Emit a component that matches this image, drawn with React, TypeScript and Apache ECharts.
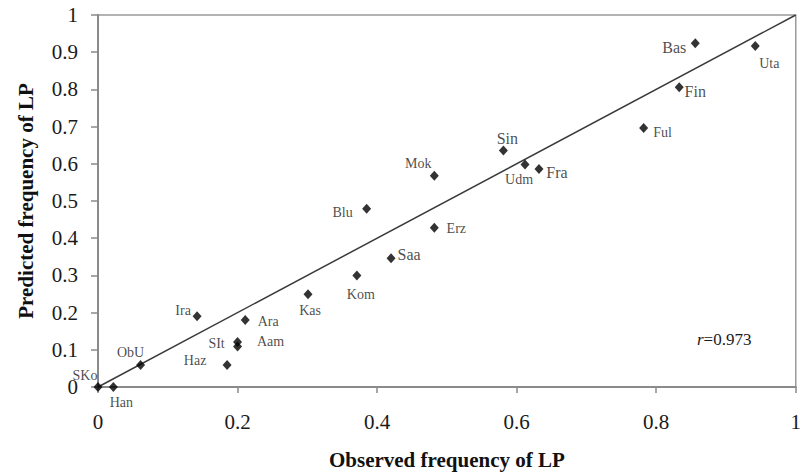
import React, { useEffect, useRef } from "react";
import * as echarts from "echarts";

const names = ["Bas", "Uta", "Fin", "Ful", "Sin", "Udm", "Fra", "Mok", "Erz", "Blu", "Saa", "Kom", "Kas", "Ira", "Ara", "SIt", "Aam", "Haz", "ObU", "SKo", "Han"];
const observed = [0.856, 0.942, 0.833, 0.782, 0.581, 0.612, 0.632, 0.482, 0.482, 0.385, 0.42, 0.371, 0.301, 0.142, 0.211, 0.2, 0.2, 0.185, 0.061, 0, 0.022];
const predicted = [0.924, 0.917, 0.806, 0.696, 0.636, 0.598, 0.586, 0.568, 0.428, 0.479, 0.346, 0.3, 0.249, 0.19, 0.18, 0.121, 0.109, 0.059, 0.059, 0, 0];
const fitLine = [[0, 0], [1, 1]];
const rValue = "0.973";

// label layout (offset from point center, font size)
const labelLayout: Record<string, [number, number, number]> = {
  Bas: [-21, 4, 16], Uta: [14, 18, 14], Fin: [16, 4, 16], Ful: [19, 4, 14],
  Sin: [4, -12, 16], Udm: [-6, 15, 14], Fra: [18, 3, 16], Mok: [-16, -12, 14],
  Erz: [22, 1, 14], Blu: [-24, 4, 14], Saa: [18, -4, 16], Kom: [4, 19, 14],
  Kas: [2, 16, 14], Ira: [-14, -6, 14], Ara: [23, 1, 14], SIt: [-21, 2, 14],
  Aam: [33, -5, 14], Haz: [-32, -5, 14], ObU: [-10, -13, 14], SKo: [-13, -12, 14],
  Han: [8, 15, 14],
};

const FONT = "'Liberation Serif', 'Times New Roman', serif";

export default function App() {
  const ref = useRef<HTMLDivElement>(null);
  useEffect(() => {
    if (!ref.current) return;
    const chart = echarts.init(ref.current, null, { renderer: "svg", width: 804, height: 475 });
    const points = names.map((n, i) => {
      const l = labelLayout[n];
      return {
        name: n,
        value: [observed[i], predicted[i]],
        label: {
          show: true,
          formatter: n,
          position: "inside",
          offset: [l[0], l[1]],
          fontSize: l[2],
          fontFamily: FONT,
          color: "#1a1a1a",
          align: "center",
          verticalAlign: "middle",
        },
      };
    });
    const fmt = (v: number) => String(+v.toFixed(1));
    chart.setOption({
      animation: false,
      backgroundColor: "#ffffff",
      grid: {
        left: 98, right: 4, top: 15, bottom: 87,
        show: true, borderColor: "#9a9a9a", borderWidth: 1.5,
      },
      xAxis: {
        type: "value", min: 0, max: 1, interval: 0.2,
        name: "Observed frequency of LP", nameLocation: "middle", nameGap: 62,
        nameTextStyle: { fontFamily: FONT, fontWeight: "bold", fontSize: 21, color: "#111" },
        axisLine: { show: true, lineStyle: { color: "#8a8a8a", width: 2 } },
        axisTick: { show: true, inside: false, length: 6, lineStyle: { color: "#8a8a8a", width: 1.5 } },
        axisLabel: { fontFamily: FONT, fontSize: 21, color: "#1a1a1a", margin: 24, formatter: fmt },
        splitLine: { show: false },
      },
      yAxis: {
        type: "value", min: 0, max: 1, interval: 0.1,
        name: "Predicted frequency of LP", nameLocation: "middle", nameGap: 62,
        nameTextStyle: { fontFamily: FONT, fontWeight: "bold", fontSize: 21, color: "#111" },
        axisLine: { show: true, lineStyle: { color: "#8a8a8a", width: 2 } },
        axisTick: { show: true, inside: false, length: 7, lineStyle: { color: "#8a8a8a", width: 1.5 } },
        axisLabel: { fontFamily: FONT, fontSize: 21, color: "#1a1a1a", margin: 20, formatter: fmt },
        splitLine: { show: false },
      },
      graphic: [
        {
          type: "text", left: 697, top: 331,
          style: {
            text: "{i|r}=" + rValue,
            rich: { i: { fontStyle: "italic", fontFamily: FONT, fontSize: 17, fill: "#1a1a1a" } },
            fontFamily: FONT, fontSize: 17, fill: "#1a1a1a",
          },
        },
      ],
      series: [
        {
          type: "line", data: fitLine, symbol: "none",
          lineStyle: { color: "#3a3a3a", width: 1.5 }, z: 1,
        },
        {
          type: "scatter", data: points, symbol: "diamond", symbolSize: [9, 10],
          itemStyle: { color: "#000" }, z: 3,
        },
      ],
    });
    return () => chart.dispose();
  }, []);
  return <div ref={ref} style={{ position: "absolute", left: 0, top: 0, width: 804, height: 475 }} />;
}
